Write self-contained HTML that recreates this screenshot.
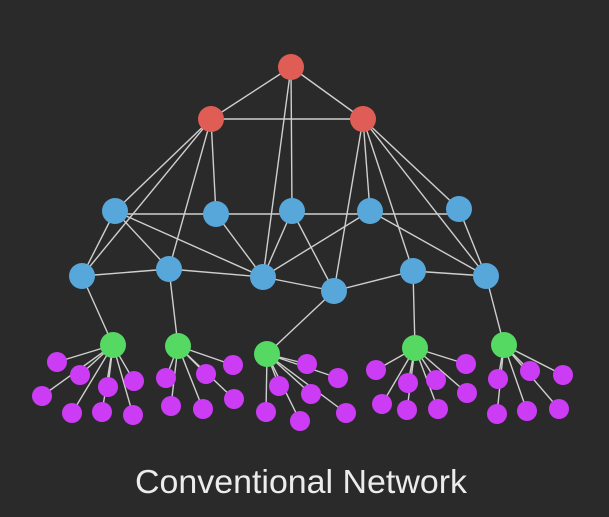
<!DOCTYPE html>
<html><head><meta charset="utf-8"><style>
html,body{margin:0;padding:0;background:#2a2a2a;}
svg{display:block}
</style></head><body>
<svg width="609" height="517" viewBox="0 0 609 517" xmlns="http://www.w3.org/2000/svg">
<rect width="609" height="517" fill="#2a2a2a"/>
<g stroke="#cfcfcf" stroke-width="1.4">
<!-- red -->
<line x1="291" y1="67" x2="211" y2="119"/><line x1="291" y1="67" x2="363" y2="119"/><line x1="211" y1="119" x2="363" y2="119"/>
<line x1="291" y1="67" x2="263" y2="277"/><line x1="291" y1="67" x2="292" y2="211"/>
<line x1="211" y1="119" x2="115" y2="211"/><line x1="211" y1="119" x2="82" y2="276"/><line x1="211" y1="119" x2="169" y2="269"/><line x1="211" y1="119" x2="216" y2="214"/>
<line x1="363" y1="119" x2="334" y2="291"/><line x1="363" y1="119" x2="370" y2="211"/><line x1="363" y1="119" x2="413" y2="271"/><line x1="363" y1="119" x2="486" y2="276"/><line x1="363" y1="119" x2="459" y2="209"/>
<!-- blue -->
<line x1="115" y1="214" x2="459" y2="214"/>
<line x1="115" y1="211" x2="82" y2="276"/><line x1="115" y1="211" x2="169" y2="269"/><line x1="115" y1="211" x2="263" y2="277"/>
<line x1="216" y1="214" x2="263" y2="277"/><line x1="292" y1="211" x2="263" y2="277"/><line x1="292" y1="211" x2="334" y2="291"/>
<line x1="370" y1="211" x2="263" y2="277"/><line x1="370" y1="211" x2="486" y2="276"/><line x1="459" y1="209" x2="486" y2="276"/>
<line x1="82" y1="276" x2="169" y2="269"/><line x1="169" y1="269" x2="263" y2="277"/><line x1="263" y1="277" x2="334" y2="291"/><line x1="334" y1="291" x2="413" y2="271"/><line x1="413" y1="271" x2="486" y2="276"/>
<!-- to green -->
<line x1="82" y1="276" x2="113" y2="345"/><line x1="169" y1="269" x2="178" y2="346"/><line x1="334" y1="291" x2="267" y2="354"/><line x1="413" y1="271" x2="415" y2="348"/><line x1="486" y1="276" x2="504" y2="345"/>
<!-- green to purple -->
<g>
<line x1="113" y1="345" x2="57" y2="362"/><line x1="113" y1="345" x2="80" y2="375"/><line x1="113" y1="345" x2="42" y2="396"/><line x1="113" y1="345" x2="108" y2="387"/><line x1="113" y1="345" x2="134" y2="381"/><line x1="113" y1="345" x2="72" y2="413"/><line x1="113" y1="345" x2="102" y2="412"/><line x1="113" y1="345" x2="133" y2="415"/>
<line x1="178" y1="346" x2="166" y2="378"/><line x1="178" y1="346" x2="206" y2="374"/><line x1="178" y1="346" x2="233" y2="365"/><line x1="178" y1="346" x2="171" y2="406"/><line x1="178" y1="346" x2="203" y2="409"/><line x1="178" y1="346" x2="234" y2="399"/>
<line x1="267" y1="354" x2="307" y2="364"/><line x1="267" y1="354" x2="338" y2="378"/><line x1="267" y1="354" x2="279" y2="386"/><line x1="267" y1="354" x2="311" y2="394"/><line x1="267" y1="354" x2="266" y2="412"/><line x1="267" y1="354" x2="300" y2="421"/><line x1="267" y1="354" x2="346" y2="413"/>
<line x1="415" y1="348" x2="376" y2="370"/><line x1="415" y1="348" x2="408" y2="383"/><line x1="415" y1="348" x2="436" y2="380"/><line x1="415" y1="348" x2="466" y2="364"/><line x1="415" y1="348" x2="467" y2="393"/><line x1="415" y1="348" x2="382" y2="404"/><line x1="415" y1="348" x2="407" y2="410"/><line x1="415" y1="348" x2="438" y2="409"/>
<line x1="504" y1="345" x2="498" y2="379"/><line x1="504" y1="345" x2="530" y2="371"/><line x1="504" y1="345" x2="563" y2="375"/><line x1="504" y1="345" x2="497" y2="414"/><line x1="504" y1="345" x2="527" y2="411"/><line x1="504" y1="345" x2="559" y2="409"/>
</g>
</g>
<g fill="#e05d55"><circle cx="291" cy="67" r="13"/><circle cx="211" cy="119" r="13"/><circle cx="363" cy="119" r="13"/></g>
<g fill="#57a7db">
<circle cx="115" cy="211" r="13"/><circle cx="216" cy="214" r="13"/><circle cx="292" cy="211" r="13"/><circle cx="370" cy="211" r="13"/><circle cx="459" cy="209" r="13"/>
<circle cx="82" cy="276" r="13"/><circle cx="169" cy="269" r="13"/><circle cx="263" cy="277" r="13"/><circle cx="334" cy="291" r="13"/><circle cx="413" cy="271" r="13"/><circle cx="486" cy="276" r="13"/>
</g>
<g fill="#55d962"><circle cx="113" cy="345" r="13"/><circle cx="178" cy="346" r="13"/><circle cx="267" cy="354" r="13"/><circle cx="415" cy="348" r="13"/><circle cx="504" cy="345" r="13"/></g>
<g fill="#cc3cf5">
<circle cx="57" cy="362" r="10"/><circle cx="80" cy="375" r="10"/><circle cx="42" cy="396" r="10"/><circle cx="108" cy="387" r="10"/><circle cx="134" cy="381" r="10"/><circle cx="72" cy="413" r="10"/><circle cx="102" cy="412" r="10"/><circle cx="133" cy="415" r="10"/>
<circle cx="166" cy="378" r="10"/><circle cx="206" cy="374" r="10"/><circle cx="233" cy="365" r="10"/><circle cx="171" cy="406" r="10"/><circle cx="203" cy="409" r="10"/><circle cx="234" cy="399" r="10"/>
<circle cx="307" cy="364" r="10"/><circle cx="338" cy="378" r="10"/><circle cx="279" cy="386" r="10"/><circle cx="311" cy="394" r="10"/><circle cx="266" cy="412" r="10"/><circle cx="300" cy="421" r="10"/><circle cx="346" cy="413" r="10"/>
<circle cx="376" cy="370" r="10"/><circle cx="408" cy="383" r="10"/><circle cx="436" cy="380" r="10"/><circle cx="466" cy="364" r="10"/><circle cx="467" cy="393" r="10"/><circle cx="382" cy="404" r="10"/><circle cx="407" cy="410" r="10"/><circle cx="438" cy="409" r="10"/>
<circle cx="498" cy="379" r="10"/><circle cx="530" cy="371" r="10"/><circle cx="563" cy="375" r="10"/><circle cx="497" cy="414" r="10"/><circle cx="527" cy="411" r="10"/><circle cx="559" cy="409" r="10"/>
</g>
<text x="301" y="493" text-anchor="middle" font-family="Liberation Sans, Arial, sans-serif" font-size="33" fill="#ececec" textLength="332" lengthAdjust="spacingAndGlyphs">Conventional Network</text>
</svg>
</body></html>
